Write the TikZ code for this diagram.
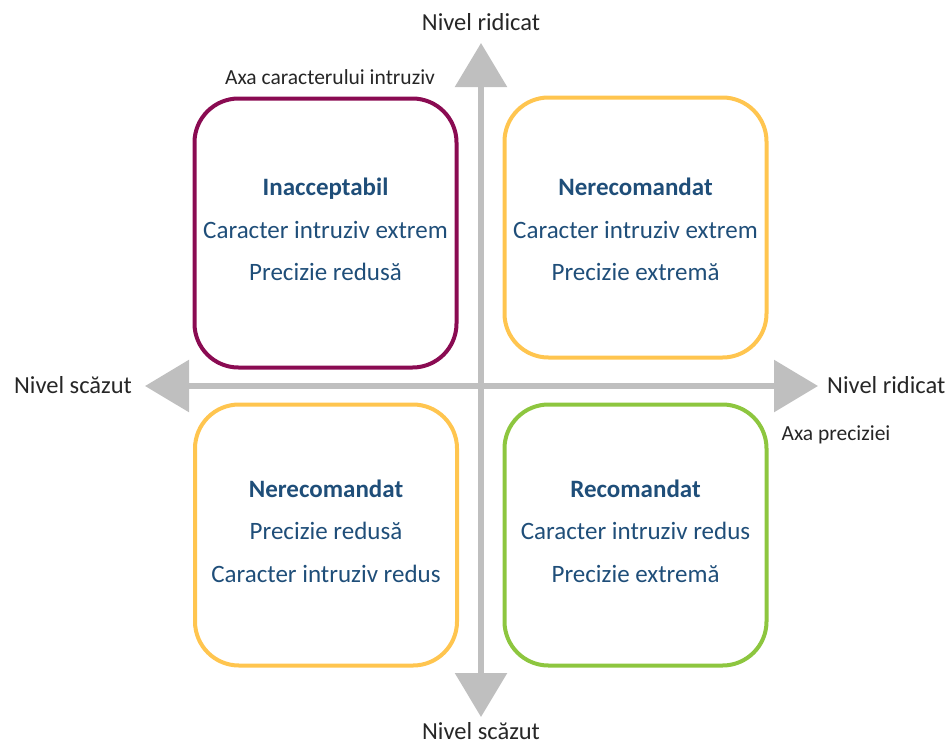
\documentclass[tikz,border=0pt]{standalone}
\usepackage{fontspec}
\setmainfont{Carlito}
\usetikzlibrary{arrows.meta}
\definecolor{axgray}{HTML}{BFBFBF}
\definecolor{txtblue}{HTML}{1F4E79}
\definecolor{plum}{HTML}{8A0B52}
\definecolor{amber}{HTML}{FFC54F}
\definecolor{leaf}{HTML}{8DC63F}
\definecolor{lbl}{HTML}{262626}
\begin{document}
\begin{tikzpicture}[x=1pt,y=-1pt,
  quad/.style={draw, line width=4pt, rounded corners=44pt, minimum width=262pt, inner sep=0pt},
  quadtext/.style={align=center, text=txtblue, inner sep=0pt, font=\fontsize{25}{42.5}\selectfont},
  axisline/.style={draw=axgray, line width=6pt,
    {Triangle[width=51pt,length=44pt,fill=axgray]}-{Triangle[width=51pt,length=44pt,fill=axgray]}},
  axlabel/.style={text=lbl, font=\fontsize{24.5}{28}\selectfont, inner sep=0pt, anchor=base},
  smlabel/.style={text=lbl, font=\fontsize{21.5}{24}\selectfont, inner sep=0pt, anchor=base}]
\useasboundingbox (0,0) rectangle (952,745);
% axes
\coordinate (vtop) at (481,43);
\coordinate (vbot) at (481,717);
\coordinate (hleft) at (145,386);
\coordinate (hright) at (818,386);
\draw[axisline] (vbot) -- (vtop);
\draw[axisline] (hleft) -- (hright);
% boxes
\node[quad, draw=plum, minimum height=269pt] (inacc) at (325.5,233) {};
\node[quad, draw=amber, minimum height=260pt] (nerecTR) at (635.5,227.5) {};
\node[quad, draw=amber, minimum height=261pt] (nerecBL) at (326,535) {};
\node[quad, draw=leaf, minimum height=261pt] (recom) at (635.5,535) {};
\node[quadtext] (inaccT) at (325.5,229.5)
  {\textbf{Inacceptabil}\\Caracter intruziv extrem\\Precizie redusă};
\node[quadtext] (nerecTRT) at (635.5,229.5)
  {\textbf{Nerecomandat}\\Caracter intruziv extrem\\Precizie extremă};
\node[quadtext] (nerecBLT) at (326,531)
  {\textbf{Nerecomandat}\\Precizie redusă\\Caracter intruziv redus};
\node[quadtext] (recomT) at (635.5,531)
  {\textbf{Recomandat}\\Caracter intruziv redus\\Precizie extremă};
% labels
\node[axlabel] (ltop) at (481,30) {Nivel ridicat};
\node[axlabel] (lbot) at (481,739) {Nivel scăzut};
\node[axlabel, anchor=base east] (lleft) at (132,393) {Nivel scăzut};
\node[axlabel, anchor=base west] (lright) at (827,393) {Nivel ridicat};
\node[smlabel] (axint) at (330,84) {Axa caracterului intruziv};
\node[smlabel] (axprec) at (836,440) {Axa preciziei};
\end{tikzpicture}
\end{document}
